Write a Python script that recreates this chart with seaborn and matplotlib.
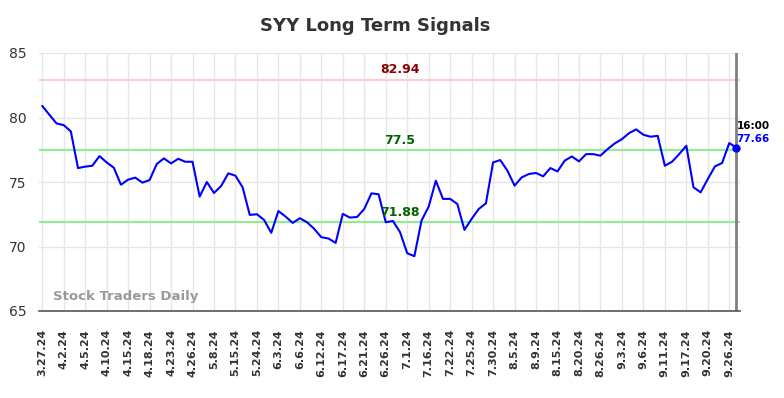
import matplotlib
matplotlib.use("Agg")
import matplotlib.pyplot as plt
import seaborn as sns
import pandas as pd
import numpy as np

prices = [80.90, 80.21, 79.54, 79.41, 78.92, 76.08, 76.19, 76.26, 77.01, 76.52,
          76.11, 74.79, 75.18, 75.34, 74.95, 75.15, 76.39, 76.83, 76.44, 76.80,
          76.57, 76.57, 73.87, 75.00, 74.15, 74.69, 75.67, 75.49, 74.59, 72.45,
          72.50, 72.06, 71.06, 72.75, 72.32, 71.83, 72.19, 71.88, 71.37, 70.72,
          70.62, 70.28, 72.53, 72.24, 72.29, 72.91, 74.12, 74.05, 71.88, 71.98,
          71.11, 69.48, 69.25, 72.01, 73.09, 75.10, 73.69, 73.69, 73.30, 71.29,
          72.14, 72.91, 73.35, 76.52, 76.70, 75.88, 74.72, 75.36, 75.62, 75.70,
          75.44, 76.08, 75.82, 76.65, 76.98, 76.60, 77.16, 77.16, 77.04, 77.55,
          77.99, 78.32, 78.79, 79.08, 78.66, 78.51, 78.58, 76.26, 76.57, 77.16,
          77.81, 74.59, 74.20, 75.23, 76.21, 76.47, 78.02, 77.66]

tick_labels = ["3.27.24", "4.2.24", "4.5.24", "4.10.24", "4.15.24", "4.18.24",
               "4.23.24", "4.26.24", "5.8.24", "5.15.24", "5.24.24", "6.3.24",
               "6.6.24", "6.12.24", "6.17.24", "6.21.24", "6.26.24", "7.1.24",
               "7.16.24", "7.22.24", "7.25.24", "7.30.24", "8.5.24", "8.9.24",
               "8.15.24", "8.20.24", "8.26.24", "9.3.24", "9.6.24", "9.11.24",
               "9.17.24", "9.20.24", "9.26.24"]

resistance = 82.94
mid_level = 77.5
support = 71.88
last_time = "16:00"
last_price = 77.66

df = pd.DataFrame({"idx": np.arange(len(prices)), "price": prices})

sns.set_style("white")
plt.rcParams['font.family'] = ['DejaVu Sans']

fig = plt.figure(figsize=(7.84, 3.98), dpi=100)
ax = fig.add_axes([39 / 784, 1 - 311 / 398, (740 - 39) / 784, (311 - 53) / 398])

n = len(prices)
tick_pos = list(range(0, n, 3))[:len(tick_labels)]

for t in tick_pos:
    ax.axvline(t, color="#e6e6e6", lw=1, zorder=0)
for yv in [65, 70, 75, 80, 85]:
    ax.axhline(yv, color="#e6e6e6", lw=1, zorder=0)

ax.axhline(resistance, color="#ffcccc", lw=1.5, zorder=1)
ax.axhline(mid_level, color="#90ee90", lw=1.5, zorder=1)
ax.axhline(support, color="#90ee90", lw=1.5, zorder=1)

sns.lineplot(data=df, x="idx", y="price", ax=ax, color="#0000ff", lw=1.5, zorder=3)

ax.axvline(n - 1, color="#808080", lw=2, zorder=2)
ax.plot([n - 1], [last_price], marker="o", color="#0000ff", ms=5, zorder=4)

label_x = 50
for val, col in [(resistance, "#8b0000"), (mid_level, "#006400"), (support, "#006400")]:
    ax.text(label_x, val + 0.25, f"{val}", color=col, fontsize=9,
            fontweight="bold", ha="center", va="bottom")

ax.text(n - 1, last_price + 1.3, last_time, color="black", fontsize=7.5,
        fontweight="bold", ha="left", va="bottom")
ax.text(n - 1, last_price + 0.3, f"{last_price}", color="#0000ff", fontsize=7.5,
        fontweight="bold", ha="left", va="bottom")

ax.text(0.02, 0.03, "Stock Traders Daily", transform=ax.transAxes, color="#999999",
        fontsize=9.5, fontweight="bold", ha="left", va="bottom")

ax.set_xlim(-0.45, n - 0.5)
ax.set_ylim(65, 85)
ax.set_xticks(tick_pos)
ax.set_xticklabels(tick_labels, rotation=90, fontsize=8, fontweight="bold")
ax.set_yticks([65, 70, 75, 80, 85])
ax.set_yticklabels(["65", "70", "75", "80", "85"], fontsize=10)
ax.tick_params(axis="x", length=0, pad=13, colors="#333333")
ax.tick_params(axis="y", length=0, pad=9, colors="#333333")
ax.set_xlabel("")
ax.set_ylabel("")

for s in ["left", "top", "right"]:
    ax.spines[s].set_visible(False)
ax.spines["bottom"].set_color("#555555")
ax.spines["bottom"].set_linewidth(1.2)

fig.suptitle("SYY Long Term Signals", fontsize=13, fontweight="bold", color="#333333",
             x=0.478, y=1 - 26 / 398, va="center")

fig.savefig("out.png", dpi=100)
